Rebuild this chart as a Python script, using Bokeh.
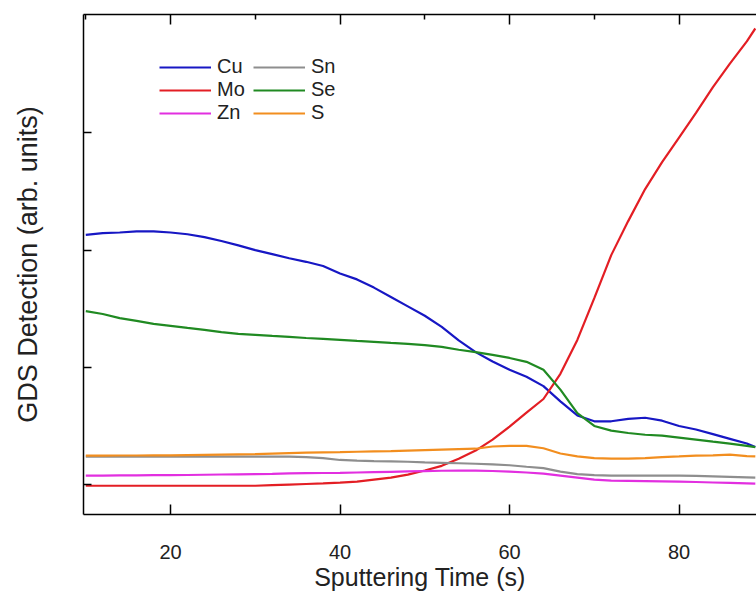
from bokeh.plotting import figure
from bokeh.models import Range1d, LinearAxis, FixedTicker, Legend, LegendItem
from bokeh.embed import file_html
from bokeh.resources import INLINE

# Sputtering time (s)
time_s = [10, 12, 14, 16, 18, 20, 22, 24, 26, 28, 30, 32, 34, 36, 38, 40, 42, 44, 46, 48,
          50, 52, 54, 56, 58, 60, 62, 64, 66, 68, 70, 72, 74, 76, 78, 80, 82, 84, 86, 88, 89]

cu = [3.13, 3.145, 3.15, 3.16, 3.16, 3.15, 3.135, 3.11, 3.077, 3.04, 3.0, 2.966, 2.93, 2.90,
      2.864, 2.80, 2.75, 2.68, 2.60, 2.52, 2.44, 2.345, 2.23, 2.13, 2.05, 1.98, 1.92, 1.84,
      1.71, 1.59, 1.54, 1.54, 1.56, 1.57, 1.545, 1.50, 1.47, 1.43, 1.39, 1.35, 1.32]

mo = [0.99, 0.99, 0.99, 0.99, 0.99, 0.99, 0.99, 0.99, 0.99, 0.99, 0.99, 0.995, 1.0, 1.005,
      1.01, 1.017, 1.026, 1.043, 1.06, 1.085, 1.12, 1.16, 1.22, 1.29, 1.383, 1.494, 1.613,
      1.73, 1.945, 2.234, 2.59, 2.957, 3.247, 3.52, 3.75, 3.96, 4.17, 4.39, 4.59, 4.78, 4.89]

zn = [1.077, 1.077, 1.078, 1.079, 1.08, 1.08, 1.082, 1.084, 1.086, 1.088, 1.09, 1.092, 1.095,
      1.097, 1.099, 1.10, 1.103, 1.106, 1.109, 1.112, 1.115, 1.118, 1.12, 1.12, 1.116, 1.11,
      1.103, 1.094, 1.077, 1.06, 1.043, 1.034, 1.032, 1.03, 1.028, 1.026, 1.022, 1.018, 1.014,
      1.01, 1.008]

sn = [1.238, 1.238, 1.238, 1.238, 1.238, 1.238, 1.238, 1.238, 1.238, 1.238, 1.238, 1.238,
      1.238, 1.234, 1.225, 1.21, 1.204, 1.20, 1.198, 1.195, 1.19, 1.186, 1.182, 1.178, 1.172,
      1.165, 1.152, 1.14, 1.11, 1.09, 1.08, 1.077, 1.077, 1.077, 1.077, 1.077, 1.074, 1.07,
      1.066, 1.062, 1.06]

se = [2.48, 2.455, 2.42, 2.396, 2.37, 2.353, 2.336, 2.32, 2.30, 2.285, 2.277, 2.268, 2.26,
      2.25, 2.243, 2.234, 2.225, 2.217, 2.208, 2.20, 2.19, 2.174, 2.15, 2.13, 2.106, 2.08,
      2.047, 1.98, 1.81, 1.61, 1.50, 1.46, 1.44, 1.425, 1.417, 1.40, 1.383, 1.366, 1.35,
      1.33, 1.32]

s = [1.247, 1.247, 1.248, 1.248, 1.249, 1.25, 1.252, 1.254, 1.256, 1.258, 1.26, 1.264, 1.268,
     1.272, 1.275, 1.277, 1.28, 1.283, 1.286, 1.29, 1.294, 1.298, 1.302, 1.306, 1.325, 1.33,
     1.33, 1.31, 1.265, 1.24, 1.225, 1.222, 1.221, 1.226, 1.234, 1.24, 1.247, 1.25, 1.255,
     1.243, 1.24]

series_names = ["Cu", "Mo", "Zn", "Sn", "Se", "S"]
series_values = [cu, mo, zn, sn, se, s]
series_colors = ["#1717c4", "#e31e24", "#e22fe0", "#8e8e8e", "#208a22", "#f28e1f"]

x_ticks = [20, 40, 60, 80]
x_minor = [10, 30, 50, 70]
y_ticks = [1, 2, 3, 4]

FONT = "Liberation Sans"

p = figure(width=756, height=593, output_backend="svg", toolbar_location=None,
           x_range=Range1d(9.73, 89.14), y_range=Range1d(0.745, 5.009),
           min_border_left=83, min_border_right=0, min_border_top=14, min_border_bottom=78)
p.outline_line_color = None
p.grid.visible = False
p.background_fill_color = "white"
p.border_fill_color = "white"

renderers = []
for name, vals, col in zip(series_names, series_values, series_colors):
    r = p.line(time_s, vals, line_color=col, line_width=2.2)
    renderers.append((name, r))

# bottom axis
xa = p.xaxis[0]
xa.ticker = FixedTicker(ticks=x_ticks)
xa.major_tick_in = 10
xa.major_tick_out = 0
xa.minor_tick_in = 0
xa.minor_tick_out = 0
xa.axis_line_width = 1.5
xa.major_tick_line_width = 1.5
xa.major_label_text_font = FONT
xa.major_label_text_font_size = "20px"
xa.major_label_text_color = "#222222"
xa.major_label_standoff = 30
xa.axis_label = "Sputtering Time (s)"
xa.axis_label_text_font = FONT
xa.axis_label_text_font_size = "25px"
xa.axis_label_text_font_style = "normal"
xa.axis_label_text_color = "#222222"
xa.axis_label_standoff = 1

# left axis
ya = p.yaxis[0]
ya.ticker = FixedTicker(ticks=y_ticks)
ya.major_label_overrides = {t: "" for t in y_ticks}
ya.major_tick_in = 8
ya.major_tick_out = 0
ya.minor_tick_in = 0
ya.minor_tick_out = 0
ya.axis_line_width = 1.5
ya.major_tick_line_width = 1.5
ya.major_label_standoff = 0
ya.axis_label = "GDS Detection (arb. units)"
ya.axis_label_text_font = FONT
ya.axis_label_text_font_size = "27px"
ya.axis_label_text_font_style = "normal"
ya.axis_label_text_color = "#222222"
ya.axis_label_standoff = 41

# top axis (ticks only)
ta = LinearAxis(ticker=FixedTicker(ticks=x_ticks, minor_ticks=x_minor))
ta.major_label_overrides = {t: "" for t in x_ticks}
ta.major_label_text_font_size = "0px"
ta.major_label_standoff = 0
ta.major_tick_in = 10
ta.major_tick_out = 0
ta.minor_tick_in = 5
ta.minor_tick_out = 0
ta.axis_line_width = 1.5
ta.major_tick_line_width = 1.5
ta.minor_tick_line_width = 1.5
p.add_layout(ta, "above")

legend = Legend(items=[LegendItem(label=n, renderers=[r]) for n, r in renderers],
                location=(76, 390), orientation="vertical", nrows=3)
legend.label_text_font = FONT
legend.label_text_font_size = "20px"
legend.label_text_color = "#222222"
legend.glyph_width = 52
legend.glyph_height = 20
legend.label_height = 20
legend.label_width = 36
legend.label_standoff = 6
legend.spacing = 0
legend.padding = 0
legend.margin = 0
legend.border_line_color = None
legend.background_fill_alpha = 0
p.add_layout(legend)

open("out.html", "w").write(file_html(p, INLINE))
